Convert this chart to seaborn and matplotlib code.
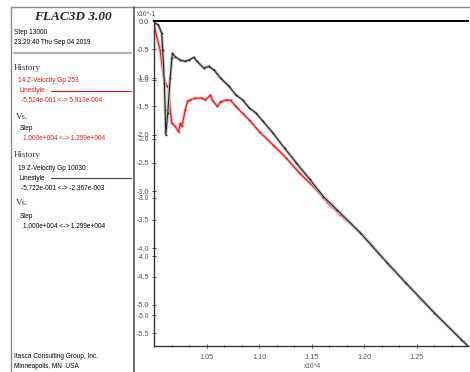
import matplotlib
matplotlib.use("Agg")
import matplotlib.pyplot as plt
import seaborn as sns
from matplotlib.ticker import FixedLocator, AutoMinorLocator, FormatStrFormatter

# History 14: Z-Velocity Gp 253 (red), values in x10^-1 units
red_step = [10000, 10010, 10058, 10090, 10122, 10138, 10154, 10170, 10202, 10234,
            10250, 10266, 10298, 10320, 10346, 10394, 10458, 10490, 10538, 10554,
            10603, 10635, 10699, 10731, 10779, 10843, 10907, 11003, 11131, 11260,
            11388, 11516, 11644, 11772, 11965, 12221, 12397, 12670, 12926, 12990]
red_vel = [0.006, -0.15, -0.49, -0.94, -1.11, -1.13, -1.51, -1.74, -1.79, -1.88,
           -1.74, -1.79, -1.51, -1.36, -1.34, -1.31, -1.31, -1.34, -1.26, -1.34,
           -1.45, -1.37, -1.34, -1.35, -1.45, -1.57, -1.68, -1.88, -2.10, -2.33,
           -2.59, -2.81, -3.07, -3.29, -3.60, -4.11, -4.45, -4.96, -5.41, -5.524]

# History 19: Z-Velocity Gp 10030 (black)
black_step = [10000, 10042, 10074, 10083, 10099, 10106, 10112, 10131, 10154, 10170,
              10176, 10202, 10250, 10298, 10330, 10378, 10410, 10474, 10522, 10571,
              10635, 10715, 10779, 10843, 10907, 10971, 11035, 11131, 11244, 11356,
              11484, 11612, 11740, 11965, 12221, 12397, 12670, 12926, 12990]
black_vel = [-0.024, -0.07, -0.22, -0.51, -1.10, -1.56, -2.00, -1.62, -1.01, -0.66,
             -0.57, -0.63, -0.69, -0.71, -0.69, -0.64, -0.71, -0.83, -0.80, -0.86,
             -1.01, -1.15, -1.30, -1.39, -1.53, -1.62, -1.76, -1.97, -2.24, -2.50,
             -2.79, -3.09, -3.32, -3.73, -4.26, -4.61, -5.14, -5.61, -5.722]

black_ticks = [0.0, -0.5, -1.0, -1.5, -2.0, -2.5, -3.0, -3.5, -4.0, -4.5, -5.0, -5.5]
red_ticks = [-1.0, -2.0, -3.0, -4.0, -5.0]
x_ticks = [1.05, 1.10, 1.15, 1.20, 1.25]

RED = "#e4161b"
GREY = "#555555"

sns.set_style("white")
plt.rcParams["font.family"] = ["Liberation Sans Narrow", "Liberation Sans", "DejaVu Sans"]

fig = plt.figure(figsize=(4.7, 3.72), dpi=100)

# left info panel, drawn in pixel coordinates
panel = fig.add_axes([0, 0, 1, 1])
panel.set_xlim(0, 470)
panel.set_ylim(372, 0)
panel.axis("off")
panel.plot([11, 470], [7, 7], color="#8a8a8a", lw=1.0)
panel.plot([11, 11], [7, 372], color="#8a8a8a", lw=1.0)
panel.plot([134, 134], [7, 372], color="#555555", lw=1.2)
panel.plot([14, 131], [53, 53], color="#b0b0b0", lw=1.5)
panel.plot([51, 131], [91, 91], color=RED, lw=0.8)
panel.plot([51, 131], [178, 178], color="#444444", lw=0.8)

serif = ["Liberation Serif", "DejaVu Serif"]
small = 4.7
panel.text(73, 17, "FLAC3D 3.00", family=serif, fontsize=9.5, weight="bold",
           style="italic", ha="center", va="center")
lines = [
    (14, 33, "Step 13000", "black"),
    (14, 43, "23:20:40 Thu Sep 04 2019", "black"),
    (18, 81, "14 Z-Velocity Gp 253", RED),
    (20, 91, "Linestyle", RED),
    (21, 101, "-5.524e-001 <-> 5.913e-004", RED),
    (20, 129, "Step", "black"),
    (23, 139, "1.000e+004 <-> 1.299e+004", RED),
    (18, 168, "19 Z-Velocity Gp 10030", "black"),
    (20, 178, "Linestyle", "black"),
    (21, 188, "-5.722e-001 <-> -2.367e-003", "black"),
    (20, 216, "Step", "black"),
    (23, 226, "1.000e+004 <-> 1.299e+004", "black"),
    (14, 357, "Itasca Consulting Group, Inc.", "black"),
    (14, 367, "Minneapolis, MN  USA", "black"),
]
for x, y, s, c in lines:
    panel.text(x, y, s, fontsize=small, color=c, ha="left", va="center")
for x, y, s in [(14, 68, "History"), (16, 117, "Vs."), (14, 155, "History"), (16, 203, "Vs.")]:
    panel.text(x, y, s, family=serif, fontsize=6.5, color="#333333", ha="left", va="center")
panel.text(137, 14, "x10^-1", fontsize=small, color=GREY, ha="left", va="center")
panel.text(312, 366, "x10^4", fontsize=small, color=GREY, ha="center", va="center")

# plot area: black history on its own scale, red history on a twin scale
ax = fig.add_axes([154 / 470, 1 - 346 / 372, 314 / 470, 325 / 372])
ax2 = ax.twinx()
ax.set_zorder(ax2.get_zorder() + 1)
ax.patch.set_visible(False)

red_x = [s / 1e4 for s in red_step]
black_x = [s / 1e4 for s in black_step]
sns.lineplot(x=red_x, y=red_vel, ax=ax2, color="#f5b5b5", lw=2.2, sort=False)
sns.lineplot(x=red_x, y=red_vel, ax=ax2, color=RED, lw=0.8, marker="+",
             markersize=2, mew=0.5, mec=RED, sort=False)
sns.lineplot(x=black_x, y=black_vel, ax=ax, color="#c4c4c4", lw=2.2, sort=False)
sns.lineplot(x=black_x, y=black_vel, ax=ax, color="#222222", lw=0.8, marker="+",
             markersize=2, mew=0.5, mec="#222222", sort=False)

ax.set_xlim(1.0, 1.299)
ax.set_ylim(-5.722, 0.0)
ax2.set_ylim(-5.524, 0.0)

ax.xaxis.set_major_locator(FixedLocator(x_ticks))
ax.xaxis.set_minor_locator(AutoMinorLocator(3))
ax.xaxis.set_major_formatter(FormatStrFormatter("%.2f"))
ax.yaxis.set_major_locator(FixedLocator(black_ticks))
ax.yaxis.set_major_formatter(FormatStrFormatter("%.1f"))
ax2.yaxis.tick_left()
ax2.yaxis.set_major_locator(FixedLocator(red_ticks))
ax2.yaxis.set_major_formatter(FormatStrFormatter("%.1f"))

for a in (ax, ax2):
    a.set_xlabel("")
    a.set_ylabel("")
    a.tick_params(axis="both", which="both", direction="inout", labelsize=5.2,
                  labelcolor=GREY, color="#333333", width=0.6, length=3, pad=2,
                  left=True, bottom=True)
    a.tick_params(axis="x", which="minor", length=2)
    a.tick_params(axis="x", pad=4)
ax2.tick_params(axis="y", labelsize=4.8)
for sp in ax2.spines.values():
    sp.set_visible(False)
ax.spines["right"].set_visible(False)
for side in ("left", "bottom"):
    ax.spines[side].set_color("#333333")
    ax.spines[side].set_linewidth(1.0)
ax.spines["top"].set_color("black")
ax.spines["top"].set_linewidth(1.4)

fig.savefig("out.png", dpi=100)
